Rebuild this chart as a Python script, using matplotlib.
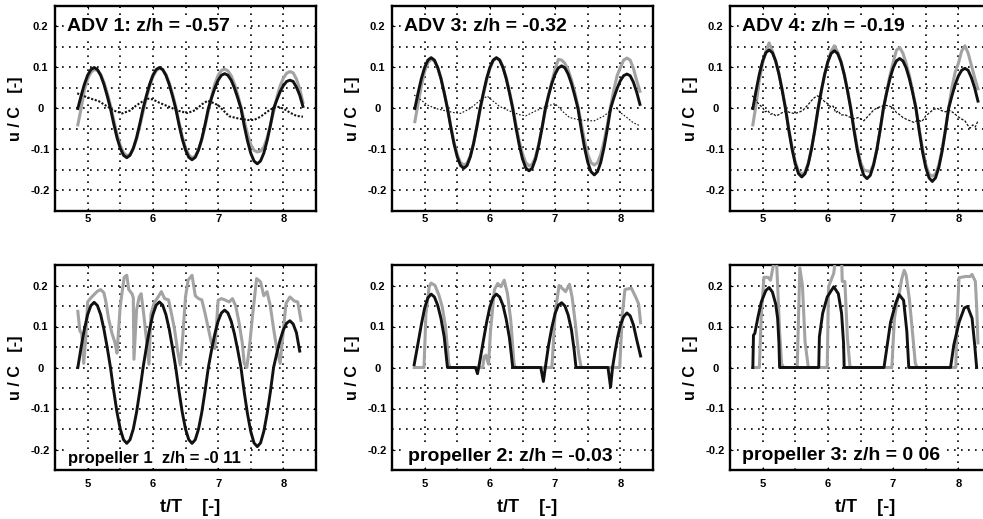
import numpy as np
import matplotlib.pyplot as plt

plt.rcParams['font.family'] = ['Liberation Sans', 'DejaVu Sans']
plt.rcParams['font.weight'] = 'bold'

# common time samples for the smooth traces (t/T)
t_grid = np.linspace(4.85, 8.30, 70)

# ---- ADV 1 (z/h = -0.57)
adv1_black = [0.000, 0.031, 0.059, 0.081, 0.095, 0.100, 0.095, 0.081, 0.059, 0.031,
              0.000, -0.037, -0.071, -0.097, -0.114, -0.120, -0.114, -0.097, -0.071, -0.037,
              0.000, 0.031, 0.059, 0.081, 0.095, 0.100, 0.095, 0.081, 0.059, 0.031,
              0.000, -0.039, -0.074, -0.101, -0.119, -0.125, -0.119, -0.101, -0.074, -0.039,
              0.000, 0.026, 0.050, 0.069, 0.081, 0.085, 0.081, 0.069, 0.050, 0.026,
              0.000, -0.042, -0.079, -0.109, -0.128, -0.135, -0.128, -0.109, -0.079, -0.042,
              0.000, 0.021, 0.041, 0.056, 0.066, 0.069, 0.066, 0.052, 0.033, 0.005]
adv1_gray = [-0.040, 0.000, 0.045, 0.072, 0.088, 0.095, 0.093, 0.083, 0.064, 0.038,
             0.008, -0.028, -0.062, -0.090, -0.108, -0.115, -0.112, -0.098, -0.075, -0.043,
             -0.008, 0.025, 0.054, 0.077, 0.092, 0.098, 0.095, 0.083, 0.063, 0.036,
             0.005, -0.033, -0.068, -0.096, -0.113, -0.120, -0.116, -0.100, -0.076, -0.043,
             -0.006, 0.030, 0.060, 0.081, 0.093, 0.096, 0.092, 0.080, 0.060, 0.034,
             0.004, -0.030, -0.062, -0.088, -0.102, -0.106, -0.104, -0.094, -0.072, -0.042,
             -0.008, 0.027, 0.055, 0.074, 0.086, 0.090, 0.087, 0.072, 0.048, 0.015]
adv1_dot_t = [4.84, 4.95, 5.05, 5.17, 5.30, 5.40, 5.53, 5.65, 5.75, 5.85, 5.93, 6.00,
              6.10, 6.25, 6.40, 6.53, 6.65, 6.75, 6.84, 6.92, 7.00, 7.10, 7.17, 7.30,
              7.45, 7.55, 7.65, 7.75, 7.85, 7.92, 8.00, 8.10, 8.20, 8.30]
adv1_dot_u = [0.037, 0.030, 0.024, 0.018, 0.005, -0.005, -0.012, -0.005, 0.008, 0.018, 0.024, 0.022,
              0.014, 0.004, -0.006, -0.011, -0.004, 0.010, 0.019, 0.014, 0.008, -0.008, -0.019, -0.024,
              -0.028, -0.028, -0.020, -0.008, 0.002, 0.004, 0.000, -0.010, -0.018, -0.020]

# ---- ADV 3 (z/h = -0.32)
adv3_black = [0.000, 0.038, 0.073, 0.100, 0.118, 0.124, 0.118, 0.100, 0.073, 0.038,
              0.000, -0.045, -0.086, -0.118, -0.139, -0.146, -0.139, -0.118, -0.086, -0.045,
              0.000, 0.038, 0.073, 0.100, 0.118, 0.124, 0.118, 0.100, 0.073, 0.038,
              0.000, -0.047, -0.089, -0.123, -0.145, -0.152, -0.145, -0.123, -0.089, -0.047,
              0.000, 0.032, 0.061, 0.084, 0.099, 0.104, 0.099, 0.084, 0.061, 0.032,
              0.000, -0.050, -0.095, -0.131, -0.154, -0.162, -0.154, -0.131, -0.095, -0.050,
              0.000, 0.026, 0.049, 0.068, 0.080, 0.084, 0.080, 0.064, 0.040, 0.010]
adv3_gray = [-0.032, 0.012, 0.055, 0.090, 0.112, 0.120, 0.116, 0.100, 0.075, 0.040,
             0.002, -0.042, -0.082, -0.112, -0.132, -0.137, -0.134, -0.115, -0.084, -0.045,
             -0.004, 0.034, 0.069, 0.097, 0.116, 0.123, 0.119, 0.102, 0.076, 0.042,
             0.004, -0.040, -0.080, -0.110, -0.132, -0.140, -0.136, -0.118, -0.086, -0.046,
             -0.005, 0.034, 0.066, 0.096, 0.120, 0.118, 0.110, 0.094, 0.070, 0.040,
             0.006, -0.036, -0.078, -0.112, -0.132, -0.138, -0.132, -0.112, -0.080, -0.040,
             0.005, 0.045, 0.080, 0.100, 0.118, 0.123, 0.118, 0.098, 0.068, 0.042]
adv3_dot_t = [4.84, 4.95, 5.05, 5.17, 5.30, 5.45, 5.55, 5.70, 5.85, 5.96, 6.05, 6.15,
              6.30, 6.45, 6.55, 6.70, 6.85, 6.96, 7.00, 7.10, 7.22, 7.35, 7.50, 7.60,
              7.75, 7.89, 7.95, 8.00, 8.10, 8.20, 8.30]
adv3_dot_u = [0.033, 0.020, 0.008, 0.000, -0.005, -0.010, -0.012, 0.000, 0.020, 0.030, 0.018, 0.005,
              -0.006, -0.015, -0.018, -0.006, 0.004, 0.010, 0.012, -0.005, -0.022, -0.027, -0.030, -0.030,
              -0.018, 0.000, 0.000, -0.010, -0.022, -0.035, -0.042]

# ---- ADV 4 (z/h = -0.19)
adv4_black = [0.000, 0.044, 0.084, 0.116, 0.136, 0.143, 0.136, 0.116, 0.084, 0.044,
              0.000, -0.052, -0.098, -0.135, -0.159, -0.167, -0.159, -0.135, -0.098, -0.052,
              0.000, 0.044, 0.083, 0.114, 0.134, 0.141, 0.134, 0.114, 0.083, 0.044,
              0.000, -0.053, -0.101, -0.138, -0.163, -0.171, -0.163, -0.138, -0.101, -0.053,
              0.000, 0.038, 0.072, 0.099, 0.116, 0.122, 0.116, 0.099, 0.072, 0.038,
              0.000, -0.055, -0.105, -0.144, -0.169, -0.178, -0.169, -0.144, -0.105, -0.055,
              0.000, 0.030, 0.058, 0.079, 0.093, 0.098, 0.093, 0.075, 0.050, 0.018]
adv4_gray = [-0.040, 0.010, 0.070, 0.110, 0.140, 0.160, 0.140, 0.115, 0.085, 0.046,
             0.003, -0.048, -0.094, -0.130, -0.153, -0.160, -0.155, -0.133, -0.097, -0.052,
             -0.002, 0.042, 0.082, 0.114, 0.140, 0.153, 0.138, 0.116, 0.085, 0.046,
             0.003, -0.048, -0.094, -0.130, -0.150, -0.152, -0.154, -0.136, -0.100, -0.054,
             -0.004, 0.040, 0.080, 0.112, 0.142, 0.149, 0.135, 0.110, 0.080, 0.042,
             0.002, -0.050, -0.098, -0.136, -0.160, -0.165, -0.160, -0.138, -0.100, -0.052,
             0.000, 0.050, 0.088, 0.110, 0.140, 0.153, 0.135, 0.105, 0.075, 0.048]
adv4_dot_t = [4.84, 4.88, 4.92, 4.96, 5.00, 5.04, 5.08, 5.12, 5.16, 5.20, 5.25, 5.30,
              5.36, 5.42, 5.48, 5.55, 5.62, 5.70, 5.78, 5.84, 5.90, 5.96, 6.00, 6.04,
              6.08, 6.12, 6.16, 6.20, 6.26, 6.32, 6.40, 6.47, 6.55, 6.62, 6.70, 6.76,
              6.82, 6.88, 6.94, 7.00, 7.05, 7.10, 7.15, 7.20, 7.26, 7.32, 7.38, 7.44,
              7.50, 7.56, 7.62, 7.68, 7.74, 7.80, 7.86, 7.92, 7.98, 8.04, 8.10, 8.14,
              8.18, 8.22, 8.26, 8.30]
adv4_dot_u = [0.031, 0.025, 0.015, 0.008, 0.002, -0.008, -0.005, -0.014, -0.012, -0.018, -0.015, -0.010,
              -0.006, -0.010, -0.012, -0.010, -0.004, 0.010, 0.025, 0.031, 0.025, 0.015, 0.012, 0.004,
              0.006, -0.010, -0.006, -0.016, -0.015, -0.020, -0.025, -0.022, -0.030, -0.018, -0.004, 0.002,
              0.005, 0.008, 0.006, 0.002, -0.010, -0.015, -0.022, -0.026, -0.030, -0.034, -0.028, -0.032,
              -0.018, -0.010, -0.002, 0.000, -0.005, -0.008, -0.004, -0.010, -0.018, -0.025, -0.030, -0.040,
              -0.048, -0.040, -0.045, -0.030]

# ---- propeller 1 (z/h = -0.11)
prop1_black = [0.000, 0.049, 0.093, 0.129, 0.151, 0.159, 0.151, 0.129, 0.093, 0.049,
               0.000, -0.057, -0.109, -0.150, -0.176, -0.185, -0.176, -0.150, -0.109, -0.057,
               0.000, 0.049, 0.094, 0.129, 0.152, 0.160, 0.152, 0.129, 0.094, 0.049,
               0.000, -0.057, -0.109, -0.150, -0.176, -0.185, -0.176, -0.150, -0.109, -0.057,
               0.000, 0.043, 0.082, 0.113, 0.133, 0.140, 0.133, 0.113, 0.082, 0.043,
               0.000, -0.060, -0.113, -0.156, -0.184, -0.193, -0.184, -0.156, -0.113, -0.060,
               0.000, 0.035, 0.067, 0.092, 0.108, 0.114, 0.106, 0.085, 0.040]
prop1_gray_t = [4.85, 4.88, 4.91, 4.94, 4.97, 5.00, 5.05, 5.10, 5.15, 5.20, 5.25, 5.28,
                5.32, 5.37, 5.42, 5.45, 5.50, 5.56, 5.60, 5.63, 5.68, 5.70, 5.71, 5.75,
                5.79, 5.82, 5.86, 5.90, 5.94, 5.97, 6.02, 6.08, 6.13, 6.18, 6.24, 6.28,
                6.33, 6.38, 6.42, 6.46, 6.50, 6.54, 6.60, 6.65, 6.70, 6.75, 6.80, 6.85,
                6.90, 6.95, 7.00, 7.05, 7.10, 7.17, 7.22, 7.27, 7.32, 7.37, 7.40, 7.44,
                7.48, 7.53, 7.59, 7.65, 7.70, 7.75, 7.80, 7.85, 7.90, 7.95, 7.99, 8.04,
                8.10, 8.17, 8.22, 8.27]
prop1_gray_u = [0.137, 0.090, 0.082, 0.010, 0.070, 0.160, 0.170, 0.178, 0.186, 0.190, 0.182, 0.160,
                0.120, 0.085, 0.060, 0.035, 0.150, 0.220, 0.225, 0.190, 0.180, 0.170, 0.020, 0.140,
                0.172, 0.180, 0.130, 0.070, 0.008, 0.130, 0.158, 0.172, 0.185, 0.168, 0.165, 0.135,
                0.095, 0.040, 0.006, 0.080, 0.172, 0.213, 0.225, 0.175, 0.168, 0.165, 0.132, 0.095,
                0.058, 0.046, 0.164, 0.168, 0.165, 0.160, 0.168, 0.150, 0.110, 0.060, 0.010, 0.000,
                0.050, 0.130, 0.217, 0.209, 0.175, 0.185, 0.150, 0.095, 0.045, 0.010, 0.075, 0.156,
                0.172, 0.162, 0.160, 0.115]

# ---- propeller 2 (z/h = -0.03)
prop2_black_t = [4.84, 4.90, 4.95, 5.00, 5.05, 5.10, 5.15, 5.20, 5.25, 5.30, 5.33, 5.35,
                 5.78, 5.81, 5.84, 5.90, 5.95, 6.00, 6.05, 6.10, 6.15, 6.20, 6.25, 6.30,
                 6.33, 6.35, 6.78, 6.82, 6.85, 6.90, 6.95, 7.00, 7.05, 7.10, 7.15, 7.20,
                 7.25, 7.29, 7.32, 7.81, 7.85, 7.88, 7.92, 7.96, 8.00, 8.05, 8.10, 8.15,
                 8.20, 8.25, 8.31]
prop2_black_u = [0.007, 0.060, 0.105, 0.145, 0.170, 0.179, 0.172, 0.152, 0.120, 0.075, 0.030, 0.000,
                 0.000, -0.015, 0.010, 0.065, 0.110, 0.148, 0.171, 0.179, 0.172, 0.152, 0.118, 0.072,
                 0.030, 0.000, 0.000, -0.034, 0.000, 0.055, 0.098, 0.132, 0.152, 0.158, 0.150, 0.128,
                 0.092, 0.045, 0.000, 0.000, -0.048, 0.000, 0.040, 0.075, 0.103, 0.124, 0.133, 0.126,
                 0.104, 0.068, 0.028]
prop2_gray_t = [4.84, 4.99, 5.02, 5.07, 5.10, 5.16, 5.22, 5.27, 5.32, 5.37, 5.39, 5.89,
                5.91, 5.94, 5.96, 5.98, 6.01, 6.07, 6.12, 6.17, 6.22, 6.27, 6.32, 6.37,
                6.39, 6.95, 7.00, 7.06, 7.11, 7.16, 7.22, 7.26, 7.31, 7.36, 7.40, 7.99,
                8.03, 8.07, 8.12, 8.17, 8.24, 8.28, 8.31]
prop2_gray_u = [0.000, 0.000, 0.130, 0.197, 0.206, 0.200, 0.176, 0.148, 0.100, 0.010, 0.000, 0.000,
                0.026, 0.030, 0.018, 0.008, 0.090, 0.190, 0.205, 0.197, 0.213, 0.180, 0.115, 0.010,
                0.000, 0.000, 0.132, 0.200, 0.193, 0.185, 0.203, 0.172, 0.107, 0.034, 0.000, 0.000,
                0.130, 0.190, 0.192, 0.193, 0.170, 0.155, 0.109]

# ---- propeller 3 (z/h = 0.06)
prop3_black_t = [4.85, 4.86, 4.88, 4.93, 4.98, 5.05, 5.10, 5.15, 5.20, 5.23, 5.25, 5.26,
                 5.86, 5.87, 5.92, 5.99, 6.09, 6.16, 6.21, 6.24, 6.25, 6.86, 6.91, 6.96,
                 7.04, 7.09, 7.16, 7.21, 7.24, 7.88, 7.93, 8.01, 8.09, 8.14, 8.21, 8.25,
                 8.28]
prop3_black_u = [0.000, 0.079, 0.083, 0.124, 0.160, 0.188, 0.195, 0.184, 0.155, 0.120, 0.060, 0.000,
                 0.000, 0.075, 0.132, 0.172, 0.197, 0.180, 0.132, 0.060, 0.000, 0.000, 0.055, 0.110,
                 0.157, 0.178, 0.164, 0.088, 0.000, 0.000, 0.055, 0.110, 0.145, 0.149, 0.120, 0.055,
                 0.000]
prop3_gray_t = [4.85, 4.95, 4.98, 5.02, 5.08, 5.12, 5.16, 5.18, 5.21, 5.23, 5.26, 5.29,
                5.32, 5.53, 5.57, 5.61, 5.65, 5.70, 5.99, 6.01, 6.09, 6.12, 6.18, 6.21,
                6.22, 6.26, 6.30, 6.34, 6.98, 7.02, 7.06, 7.10, 7.13, 7.17, 7.20, 7.25,
                7.30, 7.34, 7.37, 7.96, 7.98, 8.01, 8.11, 8.18, 8.21, 8.26, 8.28, 8.30]
prop3_gray_u = [0.000, 0.000, 0.130, 0.220, 0.220, 0.213, 0.245, 0.270, 0.270, 0.200, 0.088, 0.010,
                0.000, 0.000, 0.243, 0.200, 0.063, 0.000, 0.000, 0.197, 0.230, 0.270, 0.280, 0.270,
                0.210, 0.210, 0.070, 0.000, 0.000, 0.120, 0.160, 0.185, 0.215, 0.237, 0.225, 0.165,
                0.080, 0.010, 0.000, 0.000, 0.112, 0.219, 0.222, 0.222, 0.227, 0.210, 0.150, 0.060]

GRAY = '#a3a3a3'
BLACK = '#111111'
W, H = 983, 519
PW, PH = 261, 205

fig = plt.figure(figsize=(9.83, 5.19), dpi=100)


def make_ax(left, top, xpad):
    ax = fig.add_axes([left / W, 1 - (top + PH) / H, PW / W, PH / H])
    ax.set_xlim(4.5, 8.5)
    ax.set_ylim(-0.25, 0.25)
    ax.set_xticks([5, 6, 7, 8])
    ax.set_xticklabels(['5', '6', '7', '8'])
    ax.set_xticks([4.5, 5.5, 6.5, 7.5, 8.5], minor=True)
    ax.set_yticks([-0.2, -0.1, 0, 0.1, 0.2])
    ax.set_yticklabels(['-0.2', '-0.1', '0', '0.1', '0.2'])
    ax.set_yticks([-0.25, -0.15, -0.05, 0.05, 0.15, 0.25], minor=True)
    ax.grid(True, which='both', color='black', linestyle=(0, (1, 3.2)), linewidth=1.2)
    ax.tick_params(which='major', direction='in', length=2, width=0.8,
                   labelsize=8, top=True, right=True)
    ax.tick_params(which='minor', length=0)
    ax.tick_params(axis='y', pad=10.5)
    ax.tick_params(axis='x', pad=xpad)
    for lab in ax.get_yticklabels():
        lab.set_ha('center')
    for s in ax.spines.values():
        s.set_linewidth(1.7)
    ax.text(-39 / PW, 0.5, 'u / C   [-]', transform=ax.transAxes, rotation=90,
            ha='center', va='center', fontsize=11.5, fontweight='bold')
    return ax


box = dict(boxstyle='square,pad=0.1', fc='white', ec='none')

cols = [55, 392, 730]
tops = [6, 265]

# top row: ADV
top_panels = [
    (adv1_gray, adv1_black, adv1_dot_t, adv1_dot_u, 'ADV 1: z/h = -0.57', 1.5, (0, (1, 0.8))),
    (adv3_gray, adv3_black, adv3_dot_t, adv3_dot_u, 'ADV 3: z/h = -0.32', 0.8, (0, (1.5, 1.5))),
    (adv4_gray, adv4_black, adv4_dot_t, adv4_dot_u, 'ADV 4: z/h = -0.19', 0.9, (0, (2, 1.2))),
]
for i, (g, b, dt, du, title, dlw, dls) in enumerate(top_panels):
    ax = make_ax(cols[i], tops[0], 2.5)
    ax.plot(t_grid, g, color=GRAY, lw=2.2, zorder=3)
    ax.plot(dt, du, color=BLACK, lw=dlw, linestyle=dls, zorder=4)
    ax.plot(t_grid, b, color=BLACK, lw=2.1, zorder=5)
    ax.text(12 / PW, 1 - 24.7 / PH, title, transform=ax.transAxes, fontsize=14,
            fontweight='bold', va='baseline', ha='left', bbox=box, zorder=6)

# bottom row: propellers
bottom_panels = [
    (prop1_gray_t, prop1_gray_u, t_grid[:len(prop1_black)], prop1_black,
     'propeller 1  z/h = -0 11', 12, 13.3, 7.0),
    (prop2_gray_t, prop2_gray_u, prop2_black_t, prop2_black_u,
     'propeller 2: z/h = -0.03', 14, 16.3, 9.3),
    (prop3_gray_t, prop3_gray_u, prop3_black_t, prop3_black_u,
     'propeller 3: z/h = 0 06', 14, 12.3, 10.0),
]
for i, (gt, gu, bt, bu, label, fs, dx, dy) in enumerate(bottom_panels):
    ax = make_ax(cols[i], tops[1], 6.5)
    ax.plot(gt, gu, color=GRAY, lw=2.2, zorder=3)
    ax.plot(bt, bu, color=BLACK, lw=2.1, zorder=5)
    ax.text(dx / PW, dy / PH, label, transform=ax.transAxes, fontsize=fs,
            fontweight='bold', va='baseline', ha='left', bbox=box, zorder=6)
    ax.text(0.5 + 5 / PW, -38 / PH, 't/T    [-]', transform=ax.transAxes,
            ha='center', va='center', fontsize=13, fontweight='bold')

fig.savefig('out.png', dpi=100)
